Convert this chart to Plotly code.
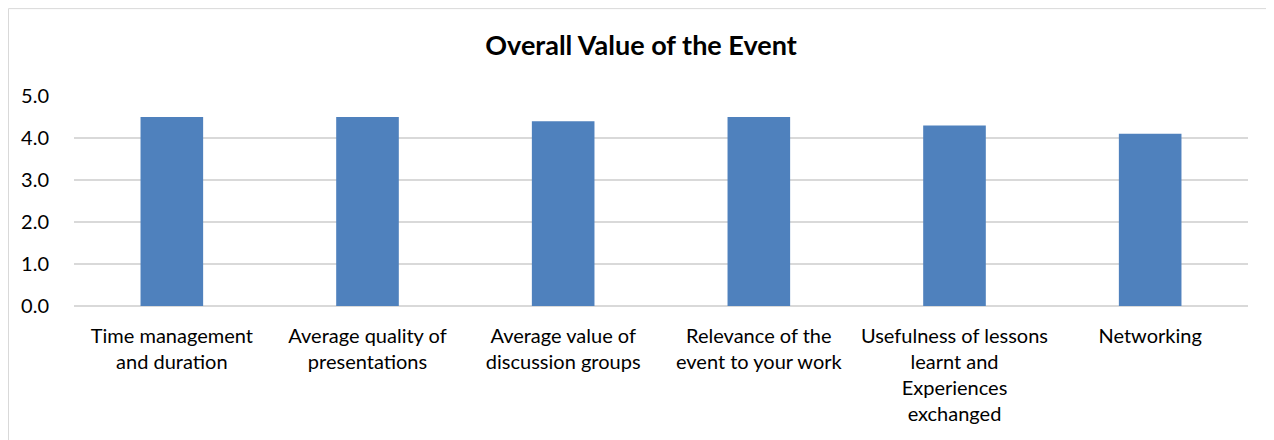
import plotly.graph_objects as go

categories = [
    "Time management<br>and duration",
    "Average quality of<br>presentations",
    "Average value of<br>discussion groups",
    "Relevance of the<br>event to your work",
    "Usefulness of lessons<br>learnt and<br>Experiences<br>exchanged",
    "Networking",
]
values = [4.5, 4.5, 4.4, 4.5, 4.3, 4.1]
y_ticks = [0, 1, 2, 3, 4, 5]
y_tick_labels = ["0.0", "1.0", "2.0", "3.0", "4.0", "5.0"]

FONT = "Lato"
GRID = "#D9D9D9"

# The page body has an 8px margin, so the figure is sized to the remaining area.
W, H = 1266, 432

fig = go.Figure(
    go.Bar(
        x=categories,
        y=values,
        marker=dict(color="#4F81BD", line=dict(width=0)),
    )
)

fig.update_layout(
    width=W,
    height=H,
    margin=dict(l=66, r=26, t=88, b=134),
    paper_bgcolor="white",
    plot_bgcolor="white",
    bargap=0.68,
    showlegend=False,
    title=dict(
        text="<b>Overall Value of the Event</b>",
        x=0.5,
        xanchor="center",
        y=1 - 38 / H,
        yanchor="middle",
        font=dict(family=FONT, size=27, color="#000000"),
    ),
    font=dict(family=FONT, size=20, color="#000000"),
    shapes=[
        dict(
            type="rect",
            xref="paper",
            yref="paper",
            x0=-65.5 / 1174,
            x1=1.1,
            y0=-1.0,
            y1=(210.3 + 87.5) / 210.3,
            line=dict(color=GRID, width=1),
            fillcolor="rgba(0,0,0,0)",
            layer="below",
        )
    ],
)

fig.update_yaxes(
    range=[0, 5],
    tickvals=y_ticks,
    ticktext=y_tick_labels,
    showgrid=True,
    gridcolor=GRID,
    gridwidth=1.5,
    zeroline=True,
    zerolinecolor=GRID,
    zerolinewidth=1.5,
    showline=False,
    ticks="",
    ticklabelstandoff=24,
    tickfont=dict(family=FONT, size=20, color="#000000"),
)
fig.update_xaxes(
    showgrid=False,
    showline=False,
    ticks="",
    tickangle=0,
    ticklabelstandoff=16,
    tickfont=dict(family=FONT, size=20, color="#000000"),
)

fig.write_html("out.html")
